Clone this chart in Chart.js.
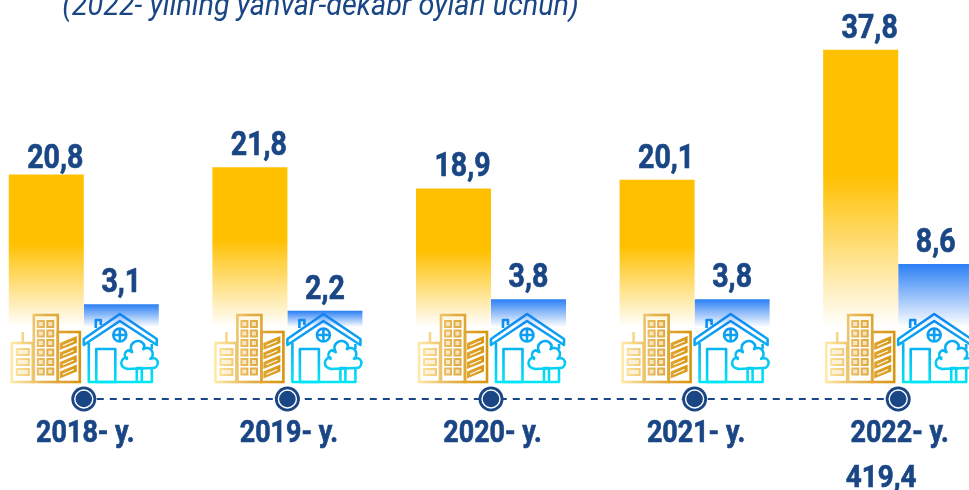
<!DOCTYPE html>
<html lang="uz">
<head>
  <meta charset="UTF-8" />
  <title>2018-2022</title>
  <script src="https://cdn.jsdelivr.net/npm/chart.js"></script>
  <style>
    html, body { margin: 0; padding: 0; background: #fff; overflow: hidden; width: 969px; height: 490px; }
    #wrap { position: absolute; left: 0; top: 0; width: 969px; height: 490px; overflow: hidden; }
    #grafico { position: absolute; left: -18px; top: 0; }
  </style>
</head>
<body>
  <div id="wrap"><canvas id="grafico" width="1018" height="490"></canvas></div>

  <script>
    const anos = ['2018- y.', '2019- y.', '2020- y.', '2021- y.', '2022- y.'];
    const cidade = [20.8, 21.8, 18.9, 20.1, 37.8];
    const casa = [3.1, 2.2, 3.8, 3.8, 8.6];
    const titulo = '(2022- yilning yanvar-dekabr oylari uchun)';
    const totalTexto = '419,4';

    const azul = '#1a4685';

    // texto "condensado": o Roboto instalado nao tem largura estreita
    function texto(ctx, str, x, y, fonte, escala) {
      ctx.save();
      ctx.font = fonte;
      ctx.fillStyle = azul;
      ctx.strokeStyle = azul;
      ctx.lineWidth = 0.7;
      ctx.textAlign = 'center';
      ctx.textBaseline = 'alphabetic';
      ctx.translate(x, y);
      ctx.scale(escala, 1);
      ctx.fillText(str, 0, 0);
      if (fonte.startsWith('bold')) ctx.strokeText(str, 0, 0);
      ctx.restore();
    }

    // predios: origem no centro do grupo, y = 0 na base do icone
    function desenhaPredios(ctx, cx, base) {
      ctx.save();
      ctx.translate(cx, base);
      const s = ctx.createLinearGradient(-73, 0, -3, 0);
      s.addColorStop(0, '#ffeaa8');
      s.addColorStop(0.5, '#e4b04c');
      s.addColorStop(1, '#d8950c');
      ctx.strokeStyle = s;
      ctx.fillStyle = s;
      ctx.lineWidth = 2.6;
      [[-72, -40, 21, 39], [-50, -68, 24, 67], [-26, -51, 22, 50]].forEach(r => ctx.strokeRect(r[0], r[1], r[2], r[3]));
      ctx.beginPath();
      ctx.moveTo(-61, -40);
      ctx.lineTo(-61, -51);
      ctx.stroke();
      // janelas do predio baixo
      ctx.lineWidth = 2;
      [-34, -24, -14].forEach(y => {
        ctx.globalAlpha = 0.35;
        ctx.fillRect(-67, y, 12, 6);
        ctx.globalAlpha = 1;
        ctx.strokeRect(-67, y, 12, 6);
      });
      // janelas do predio alto
      for (let l = 0; l < 6; l++) {
        for (let c = 0; c < 2; c++) {
          ctx.globalAlpha = 0.35;
          ctx.fillRect(-46 + c * 9.5, -62 + l * 9.5, 6, 6);
          ctx.globalAlpha = 1;
          ctx.strokeRect(-46 + c * 9.5, -62 + l * 9.5, 6, 6);
        }
      }
      // faixas inclinadas do predio da direita
      for (let i = 0; i < 4; i++) {
        const y = -45 + i * 9.5;
        ctx.fillStyle = s;
        ctx.beginPath();
        ctx.moveTo(-24, y + 5);
        ctx.lineTo(-7, y - 2);
        ctx.lineTo(-7, y + 5);
        ctx.lineTo(-24, y + 12);
        ctx.closePath();
        ctx.fill();
        ctx.strokeStyle = '#fff';
        ctx.lineWidth = 1.2;
        ctx.beginPath();
        ctx.moveTo(-21, y + 7.7);
        ctx.lineTo(-10, y + 3);
        ctx.stroke();
        ctx.strokeStyle = s;
      }
      ctx.restore();
    }

    // casa: origem no inicio da barra azul, y = 0 na base do icone
    function desenhaCasa(ctx, cx, base) {
      ctx.save();
      ctx.translate(cx, base);
      const s = ctx.createLinearGradient(0, -70, 0, 0);
      s.addColorStop(0, '#127ff0');
      s.addColorStop(1, '#00e6f6');
      ctx.strokeStyle = s;
      ctx.lineWidth = 2.6;
      ctx.lineJoin = 'round';
      // telhado
      ctx.beginPath();
      ctx.moveTo(0, -44);
      ctx.lineTo(36, -69);
      ctx.lineTo(73, -44);
      ctx.lineTo(73, -38);
      ctx.lineTo(36, -62);
      ctx.lineTo(0, -38);
      ctx.closePath();
      ctx.stroke();
      // chamine
      ctx.beginPath();
      ctx.moveTo(12, -55);
      ctx.lineTo(12, -63);
      ctx.lineTo(17, -63);
      ctx.lineTo(17, -58);
      ctx.stroke();
      // paredes
      ctx.beginPath();
      ctx.moveTo(5, -40);
      ctx.lineTo(5, -1);
      ctx.lineTo(68, -1);
      ctx.lineTo(68, -14);
      ctx.moveTo(68, -39);
      ctx.lineTo(68, -34);
      ctx.stroke();
      // janela redonda
      ctx.beginPath();
      ctx.arc(36, -48, 6.5, 0, Math.PI * 2);
      ctx.moveTo(36, -54);
      ctx.lineTo(36, -42);
      ctx.moveTo(30, -48);
      ctx.lineTo(42, -48);
      ctx.stroke();
      // porta
      ctx.strokeRect(12.5, -34, 19, 33);
      // arvore
      ctx.fillStyle = '#fff';
      ctx.beginPath();
      ctx.arc(54, -35, 7, Math.PI * 0.8, Math.PI * 1.9);
      ctx.arc(63, -29, 6, Math.PI * 1.3, Math.PI * 0.3);
      ctx.arc(69, -20, 5, Math.PI * 1.5, Math.PI * 0.5);
      ctx.lineTo(43, -14);
      ctx.arc(43, -20, 5.5, Math.PI * 0.5, Math.PI * 1.5);
      ctx.arc(46, -28, 5, Math.PI * 0.7, Math.PI * 1.4);
      ctx.closePath();
      ctx.fill();
      ctx.stroke();
      ctx.beginPath();
      ctx.moveTo(53, -1);
      ctx.lineTo(53, -15);
      ctx.lineTo(58, -15);
      ctx.lineTo(58, -1);
      ctx.stroke();
      ctx.restore();
    }

    const plugDecor = {
      id: 'decor',
      afterDatasetsDraw(chart) {
        const ctx = chart.ctx;
        const x = chart.scales.x;
        const base = chart.chartArea.bottom;
        const metaA = chart.getDatasetMeta(0);
        const metaB = chart.getDatasetMeta(1);

        anos.forEach((ano, i) => {
          const cx = x.getPixelForValue(i);
          desenhaPredios(ctx, cx, base + 56);
          desenhaCasa(ctx, cx, base + 56);
          texto(ctx, ano, cx + 1.5, base + 115, 'bold 32px Roboto', 0.84);
          // o primeiro rotulo fica mais perto da barra no original
          const folga = i === 0 ? 6 : 12;
          texto(ctx, cidade[i].toFixed(1).replace('.', ','), metaA.data[i].x + 9, metaA.data[i].y - folga, 'bold 34px Roboto', 0.84);
          texto(ctx, casa[i].toFixed(1).replace('.', ','), metaB.data[i].x, metaB.data[i].y - 12, 'bold 34px Roboto', 0.84);
        });

        // linha do tempo
        const yLinha = base + 72;
        ctx.save();
        ctx.strokeStyle = azul;
        ctx.lineWidth = 2;
        ctx.setLineDash([7, 6]);
        ctx.beginPath();
        ctx.moveTo(x.getPixelForValue(0), yLinha);
        ctx.lineTo(x.getPixelForValue(anos.length - 1), yLinha);
        ctx.stroke();
        ctx.setLineDash([]);
        anos.forEach((ano, i) => {
          const cx = x.getPixelForValue(i);
          ctx.fillStyle = azul;
          ctx.beginPath();
          ctx.arc(cx, yLinha, 12.5, 0, Math.PI * 2);
          ctx.fill();
          ctx.strokeStyle = '#fff';
          ctx.lineWidth = 1.4;
          ctx.beginPath();
          ctx.arc(cx, yLinha, 9, 0, Math.PI * 2);
          ctx.stroke();
        });
        ctx.restore();

        texto(ctx, totalTexto, x.getPixelForValue(4) - 17, base + 160, 'bold 32px Roboto', 0.87);
        texto(ctx, titulo, 338.5, 15, 'italic 31px Roboto', 0.93);
      }
    };

    function gradBarra(cor, paradas) {
      return c => {
        const el = c.chart.getDatasetMeta(c.datasetIndex).data[c.dataIndex];
        if (!c.chart.chartArea || !el) return cor;
        const y0 = c.chart.scales.y.getPixelForValue(c.dataset.data[c.dataIndex]);
        const g = c.chart.ctx.createLinearGradient(0, y0, 0, c.chart.chartArea.bottom);
        paradas.forEach(p => g.addColorStop(p, p === 1 ? 'rgba(255,255,255,1)' : cor));
        return g;
      };
    }

    new Chart(document.getElementById('grafico').getContext('2d'), {
      type: 'bar',
      data: {
        labels: anos,
        datasets: [
          { data: cidade, backgroundColor: gradBarra('#ffc000', [0, 0.45, 1]), categoryPercentage: 0.737, barPercentage: 1 },
          { data: casa, backgroundColor: gradBarra('#2a7ff5', [0, 1]), categoryPercentage: 0.737, barPercentage: 1 }
        ]
      },
      options: {
        responsive: false,
        animation: false,
        layout: { padding: { top: 0, left: 0, right: 0, bottom: 163 } },
        plugins: { legend: { display: false }, tooltip: { enabled: false }, title: { display: false } },
        scales: {
          x: { display: false },
          y: { display: false, min: 0, max: 44.6 }
        }
      },
      plugins: [plugDecor]
    });
  </script>
</body>
</html>
